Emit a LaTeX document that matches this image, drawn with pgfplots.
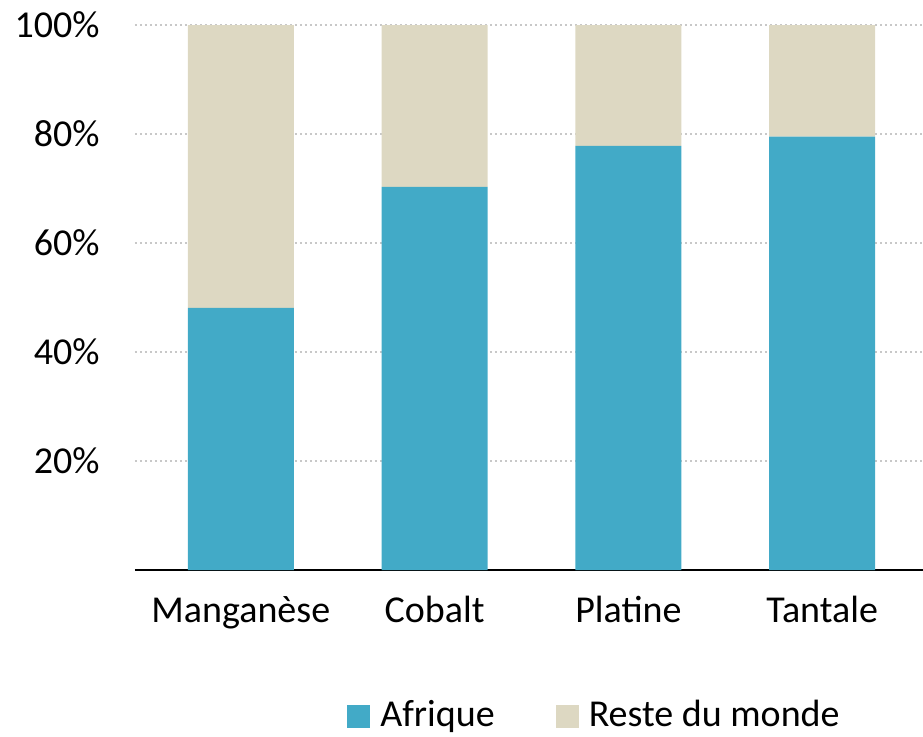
\documentclass[border=0pt]{standalone}
\usepackage{fontspec}
\setmainfont{Carlito}
\usepackage{pgfplots}
\pgfplotsset{compat=1.18}
\definecolor{afrique}{HTML}{42AAC7}
\definecolor{reste}{HTML}{DDD8C2}
\definecolor{gridgray}{HTML}{C8C8C8}

\begin{document}
\fontsize{19pt}{23pt}\selectfont
\begin{tikzpicture}
\path[use as bounding box] (-67.5pt,-83pt) rectangle (394pt,285pt);
\begin{axis}[
  scale only axis,
  width=394pt, height=272.5pt,
  ybar stacked, bar width=53pt,
  xmin=-0.546, xmax=3.52,
  ymin=0, ymax=100,
  xtick={0,1,2,3},
  xticklabels={Manganèse,Cobalt,Platine,Tantale},
  ytick={20,40,60,80,100},
  yticklabel={\pgfmathprintnumber{\tick}\%},
  /pgf/number format/assume math mode=true,
  ymajorgrids,
  major grid style={gridgray, line width=1pt, dash pattern=on 1pt off 1.5pt},
  axis x line*=bottom,
  axis y line*=left,
  y axis line style={draw=none},
  x axis line style={black, line width=0.7pt},
  major tick length=0pt,
  tick style={draw=none},
  x tick label style={anchor=base, yshift=-26pt, font=\fontsize{19pt}{23pt}\selectfont},
  y tick label style={anchor=east, inner sep=0pt, xshift=-17.5pt, font=\fontsize{19pt}{23pt}\selectfont},
  legend columns=2,
  legend style={draw=none, at={(0.269,-0.268)}, anchor=west, inner sep=0pt,
    font=\fontsize{19pt}{23pt}\selectfont,
    /tikz/every odd column/.append style={column sep=5pt},
    /tikz/every even column/.append style={column sep=30.5pt},
    nodes={inner sep=0pt}},
  legend image code/.code={\fill[#1] (0pt,-6pt) rectangle (11.5pt,5.5pt);},
]
\addplot[fill=afrique, draw=none] coordinates {(0,48.1) (1,70.3) (2,77.8) (3,79.5)};
\addplot[fill=reste, draw=none] coordinates {(0,51.9) (1,29.7) (2,22.2) (3,20.5)};
\legend{Afrique, Reste du monde}
\end{axis}
\end{tikzpicture}
\end{document}
